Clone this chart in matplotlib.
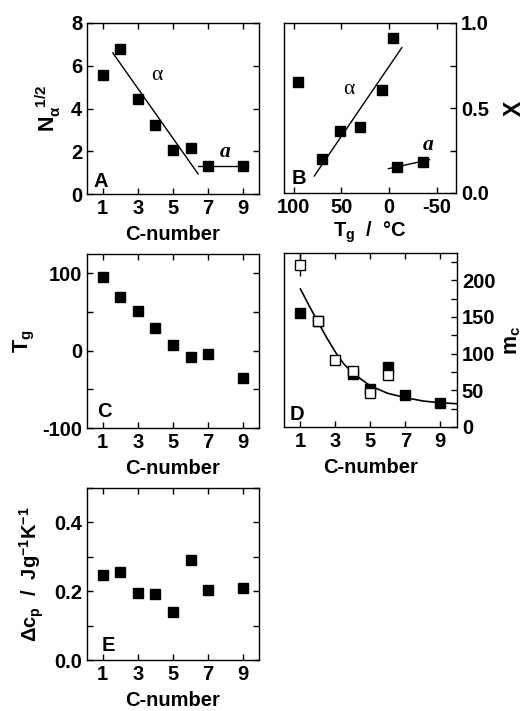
import numpy as np
import matplotlib
matplotlib.use("Agg")
import matplotlib.pyplot as plt
from matplotlib.ticker import MultipleLocator

plt.rcParams['font.family'] = ['Liberation Sans', 'DejaVu Sans']
plt.rcParams['font.weight'] = 'bold'
plt.rcParams['axes.labelweight'] = 'bold'
plt.rcParams['axes.unicode_minus'] = False
plt.rcParams['mathtext.fontset'] = 'custom'
plt.rcParams['mathtext.rm'] = 'Liberation Sans:bold'
plt.rcParams['mathtext.bf'] = 'Liberation Sans:bold'
plt.rcParams['mathtext.it'] = 'Liberation Sans:bold'
plt.rcParams['mathtext.sf'] = 'Liberation Sans'

# Panel A: N_alpha^(1/2) vs C-number
cnum = [1, 2, 3, 4, 5, 6, 7, 9]
n_alpha = [5.55, 6.8, 4.45, 3.25, 2.05, 2.15, 1.3, 1.3]
a_line_x = [1.57, 6.43]
a_line_y = [6.6, 0.94]
a2_line_x = [6.43, 9.29]
a2_line_y = [1.3, 1.3]

# Panel B: X vs Tg
tg_b = [95.1, 70.6, 51.4, 30.1, 7.3, -3.8, -8.0, -35.7]
x_b = [0.651, 0.2, 0.363, 0.386, 0.604, 0.912, 0.153, 0.182]
b_line_x = [78.3, -13.3]
b_line_y = [0.1, 0.855]
b2_line_x = [0.7, -42.3]
b2_line_y = [0.143, 0.196]

# Panel C: Tg vs C-number
tg = [94.8, 69.7, 51.0, 29.9, 6.9, -7.8, -4.3, -35.5]

# Panel D: m_c vs C-number
d_fill_x = [1, 2, 4, 5, 6, 7, 9]
d_fill_y = [155.5, 144.5, 72.0, 51.4, 82.0, 43.6, 33.0]
d_open_x = [1, 2, 3, 4, 5, 6]
d_open_y = [221.0, 144.5, 91.7, 76.6, 46.8, 71.0]
d_open_err = [16, 0, 5, 3, 4, 4]
d_fit_x = [1.0, 1.48, 1.95, 2.52, 3.0, 3.48, 3.99, 5.0, 5.99, 7.0, 8.05, 9.0, 9.95]
d_fit_y = [188, 166, 145.4, 121, 102, 86, 73.4, 56, 45.9, 40, 35.3, 33, 31.7]

# Panel E: delta cp vs C-number
dcp = [0.246, 0.256, 0.196, 0.193, 0.139, 0.292, 0.203, 0.21]

W, H = 526, 711
fig = plt.figure(figsize=(W / 100, H / 100), dpi=100)


def add_ax(l, r, t, b):
    return fig.add_axes([l / W, 1 - b / H, (r - l) / W, (b - t) / H])


fs = 14.5
ms = 6.5


def style(ax):
    ax.tick_params(direction='in', top=True, right=True, length=4, width=1,
                   labelsize=fs, which='major')
    ax.tick_params(direction='in', top=True, right=True, length=4, width=1,
                   which='minor')
    for s in ax.spines.values():
        s.set_linewidth(1)


def greek(ax, x, y):
    ax.text(x, y, 'α', fontsize=fs + 1, family='Liberation Serif',
            fontweight='normal', ha='center', va='center')


def ital_a(ax, x, y):
    ax.text(x, y, 'a', fontsize=fs + 1, family='Liberation Serif',
            style='italic', fontweight='bold', ha='center', va='center')


axA = add_ax(87, 259, 23, 194)
axB = add_ax(284, 456, 23, 193)
axC = add_ax(87, 259, 254, 428)
axD = add_ax(284, 457, 253, 427)
axE = add_ax(87, 259, 488, 660)

xpad = 5

# A
axA.plot(cnum, n_alpha, 's', color='black', ms=ms)
axA.plot(a_line_x, a_line_y, color='black', lw=1)
axA.plot(a2_line_x, a2_line_y, color='black', lw=1)
axA.set_xlim(0.1, 9.9)
axA.set_ylim(0, 8)
axA.set_xticks([1, 3, 5, 7, 9])
axA.set_yticks([0, 2, 4, 6, 8])
greek(axA, 4.1, 5.55)
ital_a(axA, 7.95, 1.95)
axA.set_ylabel(r'$\mathbf{N}_{\mathsf{\alpha}}^{\ \ \mathbf{1/2}}$', fontsize=fs + 1, labelpad=6)
axA.set_xlabel('C-number', fontsize=fs, labelpad=xpad)

# B
axB.plot(tg_b, x_b, 's', color='black', ms=ms)
axB.plot(b_line_x, b_line_y, color='black', lw=1)
axB.plot(b2_line_x, b2_line_y, color='black', lw=1)
axB.set_xlim(110, -70)
axB.set_ylim(0, 1)
axB.set_xticks([100, 50, 0, -50])
axB.set_yticks([0, 0.5, 1.0])
axB.set_yticklabels(['0.0', '0.5', '1.0'])
axB.yaxis.set_minor_locator(MultipleLocator(0.25))
axB.yaxis.tick_right()
axB.yaxis.set_label_position('right')
greek(axB, 42.7, 0.61)
ital_a(axB, -40.5, 0.28)
axB.set_ylabel('X', fontsize=fs + 2, labelpad=10)
axB.set_xlabel(r'$\mathbf{T_g}$  /  °C', fontsize=fs, labelpad=2)

# C
axC.plot(cnum, tg, 's', color='black', ms=ms)
axC.set_xlim(0.1, 9.9)
axC.set_ylim(-100, 125)
axC.set_xticks([1, 3, 5, 7, 9])
axC.set_yticks([-100, 0, 100])
axC.yaxis.set_minor_locator(MultipleLocator(50))
axC.set_ylabel(r'$\mathbf{T_g}$', fontsize=fs + 1, labelpad=4)
axC.set_xlabel('C-number', fontsize=fs, labelpad=xpad)

# D
axD.plot(d_fit_x, d_fit_y, color='black', lw=1.2)
axD.plot(d_fill_x, d_fill_y, 's', color='black', ms=ms, zorder=3)
axD.errorbar(d_open_x, d_open_y, yerr=d_open_err, fmt='s', mfc='white',
             mec='black', ecolor='black', ms=ms, mew=1, elinewidth=1,
             capsize=0, zorder=4)
axD.set_xlim(0.06, 9.96)
axD.set_ylim(0, 237)
axD.set_xticks([1, 3, 5, 7, 9])
axD.set_yticks([0, 50, 100, 150, 200])
axD.yaxis.set_minor_locator(MultipleLocator(25))
axD.yaxis.tick_right()
axD.yaxis.set_label_position('right')
axD.set_ylabel(r'$\mathbf{m_c}$', fontsize=fs + 1, labelpad=5)
axD.set_xlabel('C-number', fontsize=fs, labelpad=xpad)

# E
axE.plot(cnum, dcp, 's', color='black', ms=ms)
axE.set_xlim(0.1, 9.9)
axE.set_ylim(0, 0.5)
axE.set_xticks([1, 3, 5, 7, 9])
axE.set_yticks([0, 0.2, 0.4])
axE.set_yticklabels(['0.0', '0.2', '0.4'])
axE.yaxis.set_minor_locator(MultipleLocator(0.1))
axE.set_ylabel(r'$\mathsf{\Delta}\mathbf{c_p}$  /  $\mathbf{Jg^{-1}K^{-1}}$', fontsize=fs, labelpad=6)
axE.set_xlabel('C-number', fontsize=fs, labelpad=xpad)

for ax, lab, px, py in [(axA, 'A', 0.04, 0.015), (axB, 'B', 0.047, 0.03),
                        (axC, 'C', 0.06, 0.04), (axD, 'D', 0.035, 0.02),
                        (axE, 'E', 0.085, 0.03)]:
    style(ax)
    ax.text(px, py, lab, transform=ax.transAxes, fontsize=fs, ha='left', va='bottom')

fig.savefig('out.png', dpi=100)
